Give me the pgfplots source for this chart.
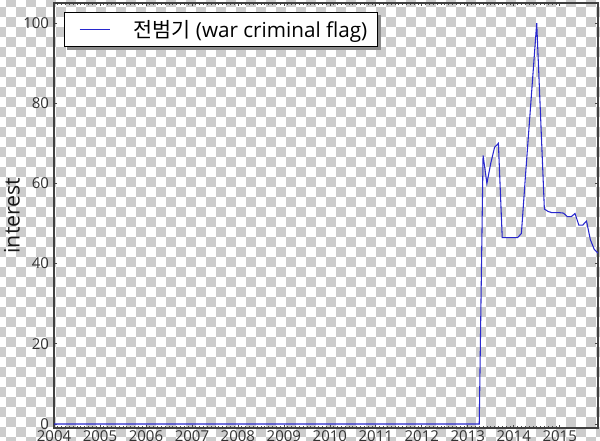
\documentclass[border=0pt]{standalone}
\usepackage{pgfplots}
\pgfplotsset{compat=1.18}
\usepackage{fontspec}
\setmainfont{Open Sans}
\newfontfamily\kr{Noto Sans CJK KR}
\definecolor{chk}{RGB}{204,204,204}
\definecolor{lineblue}{RGB}{40,40,205}
\pgfdeclarelayer{bg}
\pgfdeclarelayer{mid}
\pgfsetlayers{bg,mid,main}
\begin{document}
\begin{tikzpicture}
\useasboundingbox (0,0) rectangle (450pt,330pt);
\begin{pgfonlayer}{bg}
\begin{scope}
\clip (0,0) rectangle (450pt,330pt);
\fill[white] (0,0) rectangle (450pt,330pt);
\foreach \j in {0,...,44}{
  \pgfmathtruncatemacro\st{mod(\j+1,2)}
  \foreach \i in {0,2,...,60}{
    \fill[chk] ({(-4+10*(\i+\st))*0.75pt},{330pt-(-3.3+10*\j)*0.75pt}) rectangle ++(7.5pt,-7.5pt);
  }
}
\end{scope}
\end{pgfonlayer}
\begin{axis}[
  at={(40.5pt,9pt)}, anchor=south west,
  scale only axis, width=408pt, height=318.75pt,
  xmin=0, xmax=142, ymin=-1, ymax=105,
  xtick={0,12,...,132},
  xticklabels={2004,2005,2006,2007,2008,2009,2010,2011,2012,2013,2014,2015},
  minor x tick num=11,
  ytick={0,20,...,100},
  /pgf/number format/assume math mode=true,
  tick label style={font=\fontsize{11.25}{13}\selectfont, text=black!80},
  xticklabel style={inner sep=0pt, anchor=north, yshift=-1.5pt},
  yticklabel style={inner sep=0pt, anchor=east, xshift=-3.5pt},
  tick align=inside,
  major tick length=2.5pt, minor tick length=1.5pt,
  every tick/.style={black!70, line width=0.5pt},
  axis line style={black!75, line width=0.9pt},
  ylabel={interest},
  every axis y label/.style={at={(axis description cs:-0.0772,0.5)}, rotate=90, anchor=center, inner sep=0pt, font=\fontsize{16}{19}\selectfont, text=black!90},
  legend style={name=leg, at={(0.0184,0.979)}, anchor=north west, draw=black, line width=0.75pt, fill=white,
    inner xsep=8pt, inner ysep=5.75pt, font=\fontsize{15.5}{18}\selectfont,
    nodes={inner sep=0pt}},
  legend cell align=left,
  legend image code/.code={
    \path[draw=none, fill=none] (-3.25pt,0pt) -- (40.5pt,0pt);
    \draw[#1, line width=0.75pt, draw=lineblue] (0pt,0pt) -- (22.5pt,0pt);
  },
]
\addplot[lineblue, line width=0.8pt] coordinates {
(0,0)(1,0)(2,0)(3,0)(4,0)(5,0)(6,0)(7,0)(8,0)(9,0)(10,0)(11,0)
(12,0)(13,0)(14,0)(15,0)(16,0)(17,0)(18,0)(19,0)(20,0)(21,0)(22,0)(23,0)
(24,0)(25,0)(26,0)(27,0)(28,0)(29,0)(30,0)(31,0)(32,0)(33,0)(34,0)(35,0)
(36,0)(37,0)(38,0)(39,0)(40,0)(41,0)(42,0)(43,0)(44,0)(45,0)(46,0)(47,0)
(48,0)(49,0)(50,0)(51,0)(52,0)(53,0)(54,0)(55,0)(56,0)(57,0)(58,0)(59,0)
(60,0)(61,0)(62,0)(63,0)(64,0)(65,0)(66,0)(67,0)(68,0)(69,0)(70,0)(71,0)
(72,0)(73,0)(74,0)(75,0)(76,0)(77,0)(78,0)(79,0)(80,0)(81,0)(82,0)(83,0)
(84,0)(85,0)(86,0)(87,0)(88,0)(89,0)(90,0)(91,0)(92,0)(93,0)(94,0)(95,0)
(96,0)(97,0)(98,0)(99,0)(100,0)(101,0)(102,0)(103,0)(104,0)(105,0)(106,0)(107,0)
(108,0)(109,0)(110,0)(111,0)
(112,67)(113,60)(114,65)(115,69)(116,70)(117,46.5)(118,46.5)(119,46.5)
(120,46.5)(121,46.5)(122,47.5)(123,61)(124,74)(125,87)(126,100)(127,77)
(128,53.6)(129,53)(130,52.7)(131,52.7)(132,52.7)(133,52.6)(134,51.7)(135,51.7)
(136,52.5)(137,49.6)(138,49.6)(139,50.6)(140,46)(141,43.6)(142,42.6)
};
\addlegendentry{{\kr 전범기} (war criminal flag)}
\end{axis}
\begin{pgfonlayer}{mid}
\fill[black!45] ([xshift=2.25pt,yshift=-2.25pt]leg.south west) rectangle ([xshift=2.25pt,yshift=-2.25pt]leg.north east);
\end{pgfonlayer}
\end{tikzpicture}
\end{document}
